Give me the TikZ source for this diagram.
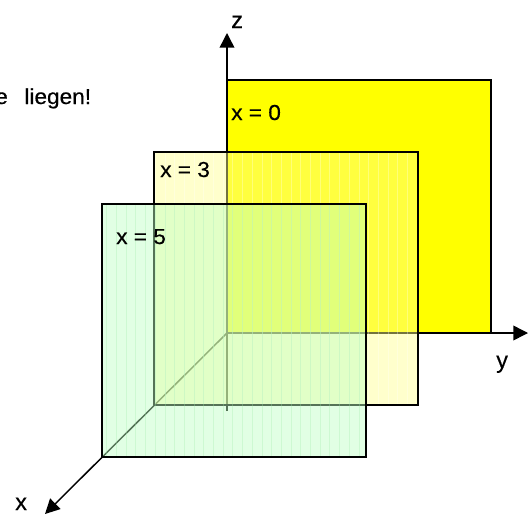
\documentclass[tikz,border=0pt]{standalone}
\usepackage{fontspec}
\setmainfont{Liberation Sans}
\newfontfamily\lblfont{Liberation Sans}[FakeBold=0.4]
\usetikzlibrary{arrows.meta}
\definecolor{pyellow}{RGB}{255,255,0}
\definecolor{lyellow}{RGB}{255,255,141}
\definecolor{lgreen}{RGB}{189,255,195}
\definecolor{ggrid}{RGB}{160,235,170}
\newcommand{\wlbl}[1]{\scalebox{1.04}[1]{\lblfont\fontsize{16.3pt}{19pt}\selectfont #1}}
\newcommand{\albl}[1]{{\lblfont\fontsize{17.5pt}{20pt}\selectfont #1}}
\begin{document}
\begin{tikzpicture}[x=0.75pt,y=-0.75pt,
  axisline/.style={line width=1.1pt, black},
  axisarrow/.style={axisline, -{Triangle[length=11pt,width=11pt]}},
  plane/.style={line width=1.5pt, black},
  lbl/.style={anchor=base west, inner sep=0pt, text=black},
  ]
\useasboundingbox (0,0) rectangle (530,514);
% coordinates
\coordinate (O) at (227,333);
\coordinate (Zbot) at (227,411);
\coordinate (Ztip) at (227,33);
\coordinate (Ytip) at (528,333);
\coordinate (Xtip) at (45,514);
% axes behind planes
\draw[axisarrow] (O) -- (Xtip);
\draw[axisline] (Zbot) -- (O);
\draw[axisarrow] (O) -- (Ztip);
\draw[axisarrow] (O) -- (Ytip);
% plane x = 0
\filldraw[plane, fill=pyellow] (227,80) rectangle (491,333);
% plane x = 3
\fill[lyellow, fill opacity=0.45] (154,152) rectangle (418,405);
\begin{scope}
  \clip (154,152) rectangle (418,405);
  \draw[white, opacity=0.3, line width=0.6pt, step=9.7] (150.3,148.3) grid (420,410);
\end{scope}
\draw[plane] (154,152) rectangle (418,405);
% plane x = 5
\fill[lgreen, fill opacity=0.45] (102,204) rectangle (366,457);
\begin{scope}
  \clip (102,204) rectangle (366,457);
  \draw[ggrid, opacity=0.3, line width=0.6pt, step=9.7] (95.3,195.3) grid (370,460);
\end{scope}
\draw[plane] (102,204) rectangle (366,457);
% labels
\node[lbl] (l0) at (231,120) {\wlbl{x = 0}};
\node[lbl] (l3) at (160,177) {\wlbl{x = 3}};
\node[lbl] (l5) at (116,244) {\wlbl{x = 5}};
\node[lbl] (lz) at (231,28) {\albl{z}};
\node[lbl] (ly) at (496,368) {\albl{y}};
\node[lbl] (lx) at (15,510) {\albl{x}};
\node[lbl] (lt) at (-5,104) {\wlbl{e\hspace{12pt}liegen!}};
\end{tikzpicture}
\end{document}
